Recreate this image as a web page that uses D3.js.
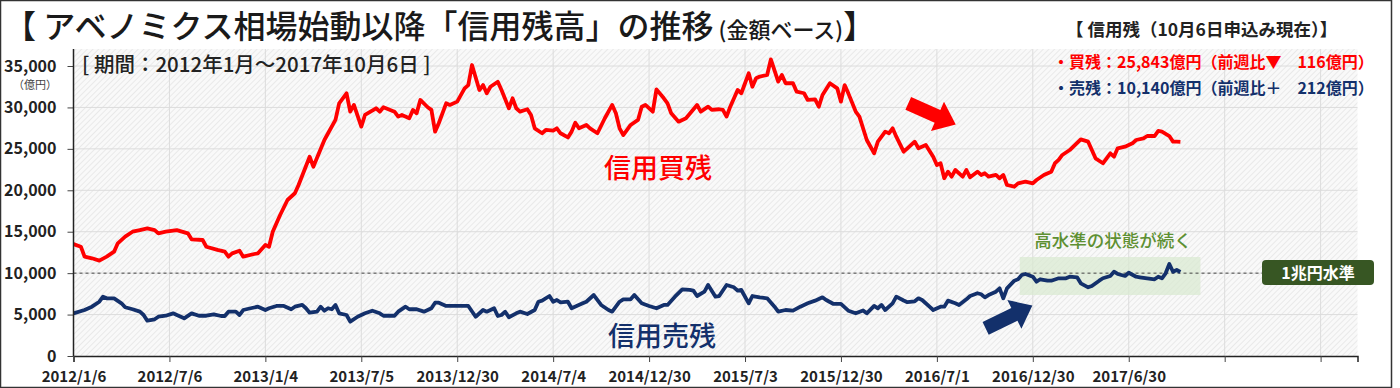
<!DOCTYPE html>
<html>
<head>
<meta charset="utf-8">
<script src="https://cdn.jsdelivr.net/npm/d3@7"></script>
<style>
body { margin: 0; background: #fff; }
svg text { font-family: "Noto Sans CJK JP", "Noto Sans", sans-serif; }
</style>
</head>
<body>
<div id="chart"></div>
<script>
// weekly data, 2012/1/6 = week 0 ... 2017/10/6 = week 300
var tickLabels = ["2012/1/6", "2012/7/6", "2013/1/4", "2013/7/5", "2013/12/30", "2014/7/4",
    "2014/12/30", "2015/7/3", "2015/12/30", "2016/7/1", "2016/12/30", "2017/6/30", "", ""];

var buyPts = [[0,13500],[2,13190],[3,11990],[5,11790],[7,11510],[9,11990],[11,12590],[12,13600],[14,14400],[16,15000],[18,15200],[20,15400],[22,15200],[23,14800],[25,15000],[28,15200],[31,14800],[32,14080],[35,14000],[36,13190],[39,12800],[41,12590],[42,11990],[43,12390],[45,12700],[46,11990],[49,12310],[50,12390],[52,13400],[53,13190],[54,15000],[56,17020],[58,18830],[60,19640],[61,20640],[64,24050],[65,22850],[68,26070],[69,26880],[71,28490],[72,30500],[74,31710],[75,29490],[76,30300],[78,27680],[79,29090],[82,29900],[83,29490],[84,30020],[87,29490],[88,28890],[89,29090],[91,28690],[92,29700],[93,29290],[94,30900],[96,30020],[97,29700],[98,27080],[99,28090],[101,30500],[102,30300],[104,30700],[106,32300],[107,32700],[108,35120],[110,32100],[111,32700],[112,31700],[113,32500],[115,33100],[116,32100],[118,29900],[119,31100],[120,29900],[121,29490],[123,29780],[124,29090],[125,27480],[127,26880],[128,27280],[130,27200],[131,27480],[132,26880],[134,26380],[135,27080],[136,28160],[137,27480],[139,27880],[140,27480],[142,26880],[144,28690],[146,30300],[147,29290],[148,27480],[149,26670],[151,27880],[153,28490],[154,30090],[155,30300],[157,29490],[158,32180],[160,31100],[161,30500],[162,29290],[164,28280],[166,28690],[169,30300],[170,29490],[172,30090],[173,29700],[175,29780],[176,29700],[177,28890],[178,30090],[180,32100],[181,31710],[183,34120],[184,32500],[185,33520],[186,33720],[188,33920],[189,35800],[191,33110],[192,33920],[193,32920],[195,32920],[196,31900],[198,31710],[199,30900],[201,30980],[202,30090],[203,31500],[205,32920],[207,32300],[208,30700],[209,32700],[210,31700],[212,29500],[213,28890],[215,26070],[217,24470],[218,25870],[220,27080],[221,26880],[222,27480],[223,26470],[225,24660],[226,25070],[228,25870],[229,25070],[231,25470],[233,24050],[234,23050],[235,23260],[236,21450],[237,22250],[238,21640],[239,22450],[241,21640],[242,22450],[243,21570],[245,22250],[246,21850],[247,22050],[248,21640],[250,21850],[251,21450],[252,21850],[253,20640],[255,20430],[256,20840],[258,21040],[260,20840],[261,21240],[263,21850],[265,22250],[266,23260],[267,23660],[268,24260],[270,24860],[273,26150],[275,25870],[276,24860],[277,23860],[279,23260],[281,24460],[282,24060],[283,25070],[285,25260],[287,25670],[288,26070],[290,26270],[291,26550],[293,26550],[294,27160],[295,27080],[297,26550],[298,25870],[299,25870],[300,25843]];

var sellPts = [[0,5150],[3,5550],[5,5950],[7,6550],[8,7160],[9,6960],[11,6960],[13,6360],[14,5880],[16,5640],[18,5350],[19,4950],[20,4260],[22,4430],[23,4740],[25,4860],[27,5150],[28,4950],[30,4550],[32,5150],[34,4860],[36,4860],[38,5030],[40,4830],[41,4830],[42,5350],[44,5350],[45,4950],[46,5550],[48,5760],[50,5950],[52,5550],[53,5760],[55,6040],[57,6040],[59,5640],[60,5950],[62,6160],[63,5760],[64,5230],[66,5350],[67,5950],[68,5470],[69,5760],[70,5640],[71,6160],[72,5150],[74,4950],[75,4140],[77,4740],[79,5150],[81,5470],[83,5150],[84,4860],[87,4860],[88,5350],[90,5950],[91,5640],[93,5640],[95,5350],[97,5760],[98,6430],[99,6430],[101,6040],[105,6040],[107,6040],[109,4740],[111,5550],[112,5350],[114,5760],[115,4830],[116,4950],[117,5350],[118,4670],[120,5150],[121,5350],[123,5070],[125,5550],[126,6550],[127,6680],[129,7240],[130,6550],[131,6760],[132,6480],[134,6550],[135,5760],[138,6360],[139,6550],[141,7360],[143,6160],[145,5550],[146,5350],[148,6550],[149,6840],[151,6840],[152,7360],[154,6360],[156,6040],[158,5760],[160,6160],[161,6160],[163,7160],[165,8050],[167,7970],[168,7880],[169,7240],[171,7760],[172,8570],[174,7160],[175,7240],[177,8570],[179,8290],[180,7880],[181,7970],[183,6360],[184,7240],[186,7080],[188,6960],[190,5950],[191,5350],[193,5550],[195,5470],[197,5950],[199,6360],[201,6680],[203,7080],[204,6760],[206,6280],[208,6280],[210,5470],[212,5150],[214,5500],[215,5150],[217,6040],[218,5760],[219,6160],[220,5550],[222,6360],[223,7160],[225,6700],[226,6500],[228,6600],[229,6960],[230,6760],[232,5950],[233,5550],[235,5950],[236,5950],[237,6680],[239,6360],[240,6160],[242,6840],[243,7240],[245,7570],[246,7450],[247,7080],[248,7360],[250,7760],[251,8170],[252,6960],[253,8170],[255,9090],[256,9260],[257,9780],[258,9900],[260,9570],[261,8970],[262,9260],[264,9090],[265,9090],[267,9380],[269,9380],[270,9570],[272,9500],[273,8770],[275,8290],[276,8450],[278,9090],[279,9380],[281,9660],[282,10170],[283,9900],[285,9660],[286,10050],[288,9570],[289,9500],[291,9380],[293,9260],[294,9570],[295,9380],[296,9980],[297,11100],[298,10170],[299,10380],[300,10140]];

var levelValue = 10000;   // 1兆円
var highZone = [257, 300]; // weeks, 高水準
var yTicks = [0, 5000, 10000, 15000, 20000, 25000, 30000, 35000];

var width = 1400, height = 388;
var red = "#ff0000", navy = "#13306b", green = "#375623";

var svg = d3.select("#chart").append("svg")
    .attr("width", width)
    .attr("height", height);

var x = d3.scaleLinear().domain([0, 348]).range([73.5, 1357.5]);
var y = d3.scaleLinear().domain([0, 35000]).range([356, 66]);

// hatched background
var defs = svg.append("defs");
var pat = defs.append("pattern")
    .attr("id", "hatch")
    .attr("width", 4).attr("height", 4)
    .attr("patternUnits", "userSpaceOnUse")
    .attr("patternTransform", "rotate(45)");
pat.append("rect").attr("width", 4).attr("height", 4).attr("fill", "#f9f9f9");
pat.append("line").attr("x1", 0).attr("y1", 0).attr("x2", 0).attr("y2", 4)
    .attr("stroke", "#e4e4e4").attr("stroke-width", 1.5);

svg.append("rect")
    .attr("x", x(0)).attr("y", 49)
    .attr("width", x(348) - x(0)).attr("height", y(0) - 49)
    .attr("fill", "url(#hatch)");

// grid
var grid = svg.append("g");
grid.selectAll(".hg").data(yTicks.slice(1)).enter()
    .append("line")
    .attr("x1", x(0)).attr("x2", x(348))
    .attr("y1", function(d) { return y(d); })
    .attr("y2", function(d) { return y(d); })
    .attr("stroke", "#dcdcdc");
grid.selectAll(".vg").data(d3.range(26, 348, 26)).enter()
    .append("line")
    .attr("x1", function(d) { return x(d); })
    .attr("x2", function(d) { return x(d); })
    .attr("y1", 49).attr("y2", y(0))
    .attr("stroke", "#dcdcdc");

// high level zone
svg.append("rect")
    .attr("x", x(highZone[0]) - 2).attr("y", 257)
    .attr("width", x(highZone[1]) - x(highZone[0]) + 22).attr("height", 38)
    .attr("fill", "#d9ead0").attr("opacity", 0.7);

// 1兆円 line
svg.append("line")
    .attr("x1", x(0)).attr("x2", 1262)
    .attr("y1", y(levelValue)).attr("y2", y(levelValue))
    .attr("stroke", "#444").attr("stroke-width", 1)
    .attr("stroke-dasharray", "3,3");

// lines
var line = d3.line()
    .x(function(d) { return x(d[0]); })
    .y(function(d) { return y(d[1]); });

svg.append("path").datum(buyPts)
    .attr("d", line)
    .attr("fill", "none").attr("stroke", red)
    .attr("stroke-width", 3.8).attr("stroke-linejoin", "round");

svg.append("path").datum(sellPts)
    .attr("d", line)
    .attr("fill", "none").attr("stroke", navy)
    .attr("stroke-width", 3.8).attr("stroke-linejoin", "round");

// axes
var xAxis = d3.axisBottom(x)
    .tickValues(d3.range(0, 348, 26))
    .tickSize(6)
    .tickFormat(function(d) { return tickLabels[d / 26]; });

var gx = svg.append("g")
    .attr("transform", "translate(0," + y(0) + ")")
    .call(xAxis);
gx.select(".domain").attr("stroke", "#222").attr("stroke-width", 1.5);
gx.selectAll(".tick line").attr("stroke", "#444");
gx.selectAll("text")
    .attr("dy", "1.1em")
    .attr("fill", "#222")
    .style("font-size", "15px")
    .style("font-weight", "bold");

var yAxis = d3.axisLeft(y)
    .tickValues(yTicks)
    .tickSize(6)
    .tickFormat(d3.format(","));

var gy = svg.append("g")
    .attr("transform", "translate(" + x(0) + ",0)")
    .call(yAxis);
gy.select(".domain").remove();
gy.selectAll(".tick line").attr("stroke", "#444");
gy.selectAll("text")
    .attr("x", -17)
    .attr("fill", "#222")
    .style("font-size", "16px")
    .style("font-weight", "bold");
svg.append("line")
    .attr("x1", x(0)).attr("x2", x(0))
    .attr("y1", 49).attr("y2", y(0))
    .attr("stroke", "#222").attr("stroke-width", 1.5);

svg.append("text")
    .attr("x", 35).attr("y", 89)
    .attr("text-anchor", "middle")
    .attr("fill", "#444")
    .style("font-size", "11px")
    .text("（億円）");

// title
var title = svg.append("text")
    .attr("x", 4).attr("y", 38)
    .attr("fill", "#1a1a1a")
    .style("font-weight", "500");
title.append("tspan").style("font-size", "32px").text("【 アベノミクス相場始動以降「信用残高」の推移");
title.append("tspan").style("font-size", "22px").text(" (金額ベース)");
title.append("tspan").style("font-size", "32px").text("】");

svg.append("text")
    .attr("x", 82).attr("y", 72)
    .attr("fill", "#222")
    .style("font-size", "20.5px")
    .style("font-weight", "500")
    .text("[ 期間：2012年1月～2017年10月6日 ]");

// legend box texts
svg.append("text")
    .attr("x", 1066).attr("y", 36)
    .attr("fill", "#222")
    .style("font-size", "17.5px").style("font-weight", "bold")
    .text("【 信用残（10月6日申込み現在）】");
svg.append("text")
    .attr("x", 1053).attr("y", 68)
    .attr("fill", red)
    .style("font-size", "16px").style("font-weight", "bold")
    .text("・買残：25,843億円（前週比▼　116億円）");
svg.append("text")
    .attr("x", 1053).attr("y", 94)
    .attr("fill", navy)
    .style("font-size", "16px").style("font-weight", "bold")
    .text("・売残：10,140億円（前週比＋　212億円）");

// series labels
svg.append("text")
    .attr("x", 658).attr("y", 178)
    .attr("text-anchor", "middle")
    .attr("fill", red)
    .style("font-size", "27px").style("font-weight", "500")
    .text("信用買残");
svg.append("text")
    .attr("x", 662).attr("y", 346)
    .attr("text-anchor", "middle")
    .attr("fill", navy)
    .style("font-size", "27px").style("font-weight", "500")
    .text("信用売残");

svg.append("text")
    .attr("x", 1113).attr("y", 247)
    .attr("text-anchor", "middle")
    .attr("fill", "#5e9032")
    .style("font-size", "17.5px").style("font-weight", "500")
    .text("高水準の状態が続く");

// 1兆円水準 label
svg.append("rect")
    .attr("x", 1262).attr("y", 260)
    .attr("width", 112).attr("height", 25)
    .attr("rx", 4)
    .attr("fill", green);
svg.append("text")
    .attr("x", 1318).attr("y", 278.5)
    .attr("text-anchor", "middle")
    .attr("fill", "#fff")
    .style("font-size", "16px").style("font-weight", "bold")
    .text("1兆円水準");

// arrows
function arrow(cx, cy, angle, color) {
    var pts = [[-26, -7], [6, -7], [6, -16], [26, 0], [6, 16], [6, 7], [-26, 7]];
    svg.append("polygon")
        .attr("points", pts.map(function(p) { return p.join(","); }).join(" "))
        .attr("transform", "translate(" + cx + "," + cy + ") rotate(" + angle + ")")
        .attr("fill", color);
}
arrow(932, 114, 24, red);
arrow(1009, 317, -26, navy);

// frame
svg.append("rect")
    .attr("x", 0.5).attr("y", 0.5)
    .attr("width", 1391).attr("height", 387)
    .attr("fill", "none")
    .attr("stroke", "#333").attr("stroke-width", 1.5);
</script>
</body>
</html>
